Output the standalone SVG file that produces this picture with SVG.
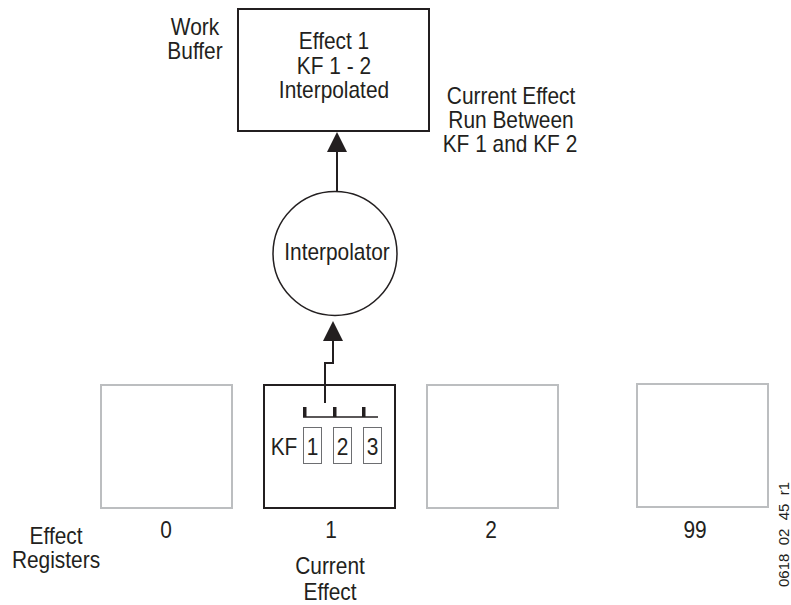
<svg xmlns="http://www.w3.org/2000/svg" width="791" height="605" viewBox="0 0 791 605">
<style>
  text { font-family: "Liberation Sans", Arial, sans-serif; font-size: 24px; fill: #231f20; text-anchor: middle; transform-box: fill-box; transform-origin: center; transform: scaleX(0.87); }
  .box { fill: none; stroke: #231f20; stroke-width: 2; }
  .reg { fill: none; stroke: #bcbec0; stroke-width: 2; }
  .kfbox { fill: none; stroke: #6d6e71; stroke-width: 1; }
  .conn { fill: none; stroke: #231f20; stroke-width: 2; }
  text.tag { font-size: 15px; text-anchor: start; transform-box: view-box; transform-origin: 0 0; transform: translate(789px,587px) rotate(-90deg); white-space: pre; }
</style>
<defs>
  <marker id="arrow" viewBox="0 0 20 20" refX="0" refY="10" markerWidth="20" markerHeight="20" markerUnits="userSpaceOnUse" orient="auto">
    <path d="M0,0 L20,10 L0,20 Z" fill="#231f20"/>
  </marker>
</defs>

<g id="work-buffer">
  <rect class="box" x="238" y="9" width="191" height="122"/>
  <text x="334" y="49">Effect 1</text>
  <text x="334" y="74">KF 1 - 2</text>
  <text x="334" y="98">Interpolated</text>
</g>
<g id="work-buffer-label">
  <text x="195" y="35">Work</text>
  <text x="195" y="59">Buffer</text>
</g>
<g id="current-effect-note">
  <text x="511" y="104">Current Effect</text>
  <text x="511" y="128">Run Between</text>
  <text x="510" y="152">KF 1 and KF 2</text>
</g>

<g id="interpolator">
  <circle cx="335" cy="253.5" r="62" fill="none" stroke="#231f20" stroke-width="1.5"/>
  <text x="337" y="260">Interpolator</text>
</g>

<g id="register-0">
  <rect class="reg" x="101" y="385" width="131" height="123"/>
  <text x="166" y="538">0</text>
</g>
<g id="register-1">
  <rect class="box" x="264" y="385" width="131" height="123"/>
  <text x="331" y="538">1</text>
  <text x="330" y="574">Current</text>
  <text x="330" y="600">Effect</text>
  <g id="keyframes">
    <line x1="303" y1="417" x2="378" y2="417" stroke="#231f20" stroke-width="1.5"/>
    <rect x="303" y="407" width="3.5" height="10" fill="#231f20"/>
    <rect x="333" y="407" width="3.5" height="10" fill="#231f20"/>
    <rect x="362" y="407" width="3.5" height="10" fill="#231f20"/>
    <text x="284" y="455">KF</text>
    <rect class="kfbox" x="303.5" y="427.5" width="18" height="36"/>
    <rect class="kfbox" x="333.5" y="427.5" width="18" height="36"/>
    <rect class="kfbox" x="363.5" y="427.5" width="18" height="36"/>
    <text x="312.5" y="455">1</text>
    <text x="342.5" y="455">2</text>
    <text x="372.5" y="455">3</text>
  </g>
</g>
<g id="register-2">
  <rect class="reg" x="427" y="385" width="131" height="123"/>
  <text x="491" y="538">2</text>
</g>
<g id="register-99">
  <rect class="reg" x="637" y="384" width="131" height="123"/>
  <text x="695" y="538">99</text>
</g>
<g id="effect-registers-label">
  <text x="56" y="544">Effect</text>
  <text x="56" y="568">Registers</text>
</g>

<g id="connectors">
  <path class="conn" d="M337,192 L337,152" marker-end="url(#arrow)"/>
  <path class="conn" d="M325,403 L325,363 L333,363 L333,341" marker-end="url(#arrow)"/>
</g>

<text class="tag" x="0" y="0">0618  02  45  r1</text>
</svg>
